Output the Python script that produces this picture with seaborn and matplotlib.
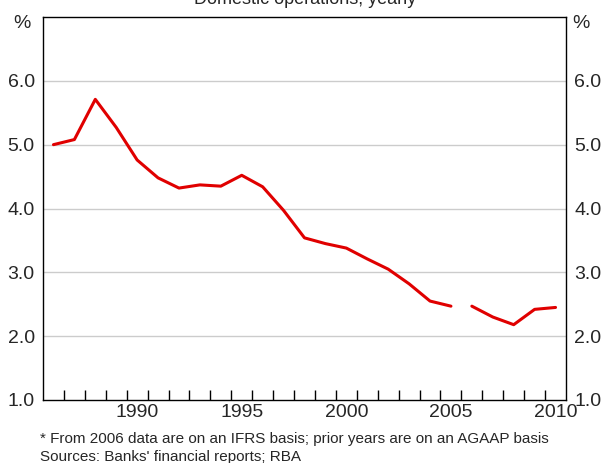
"""
Banks' net interest margin - domestic operations, yearly
"""

import numpy as np
import pandas as pd
import matplotlib
matplotlib.use("Agg")
import matplotlib.pyplot as plt
import seaborn as sns

# Data
years_agaap = [1986, 1987, 1988, 1989, 1990, 1991, 1992, 1993, 1994, 1995,
               1996, 1997, 1998, 1999, 2000, 2001, 2002, 2003, 2004, 2005]
margin_agaap = [5.00, 5.08, 5.71, 5.27, 4.76, 4.48, 4.32, 4.37, 4.35, 4.52,
                4.34, 3.97, 3.54, 3.45, 3.38, 3.21, 3.05, 2.82, 2.55, 2.47]
years_ifrs = [2006, 2007, 2008, 2009, 2010]
margin_ifrs = [2.47, 2.30, 2.18, 2.42, 2.45]

y_ticks = [1.0, 2.0, 3.0, 4.0, 5.0, 6.0]
x_labels = [1990, 1995, 2000, 2005, 2010]

title = "Domestic operations, yearly"
footnote = "* From 2006 data are on an IFRS basis; prior years are on an AGAAP basis"
sources = "Sources: Banks' financial reports; RBA"

# Build a long table; data plotted at mid-year
df = pd.concat([
    pd.DataFrame({"year": years_agaap, "margin": margin_agaap, "basis": "AGAAP"}),
    pd.DataFrame({"year": years_ifrs, "margin": margin_ifrs, "basis": "IFRS"}),
])
df["pos"] = df["year"] + 0.5

sns.set_style("white")
plt.rcParams["font.family"] = ["Liberation Sans", "DejaVu Sans"]

fig = plt.figure(figsize=(6.01, 4.63), dpi=100)
ax = fig.add_axes([43 / 601, 1 - 400 / 463, 523 / 601, 383 / 463])

sns.lineplot(data=df, x="pos", y="margin", hue="basis",
             palette=["#e00000", "#e00000"], linewidth=2.2,
             legend=False, ax=ax)

ax.set_xlim(1986, 2011)
ax.set_ylim(1.0, 7.0)
ax.set_xlabel("")
ax.set_ylabel("")

# horizontal gridlines
for y in y_ticks[1:]:
    ax.axhline(y, color="#cccccc", linewidth=1.0, zorder=0)

ax.set_yticks(y_ticks)
ax.set_yticklabels([f"{v:.1f}" for v in y_ticks])
ax.tick_params(axis="y", length=0, labelsize=14, pad=6,
               labelleft=True, labelright=True)

# year-boundary ticks inside, labels centred mid-year
ax.set_xticks(np.arange(1987, 2011), minor=False)
ax.set_xticklabels([])
ax.tick_params(axis="x", which="major", direction="in", length=7,
               width=1, color="black", top=False, bottom=True)
ax.set_xticks([y + 0.5 for y in x_labels], minor=True)
ax.set_xticklabels([str(y) for y in x_labels], minor=True)
ax.tick_params(axis="x", which="minor", length=0, labelsize=14, pad=3)

for side in ["left", "right", "top", "bottom"]:
    ax.spines[side].set_visible(True)
    ax.spines[side].set_color("black")
    ax.spines[side].set_linewidth(1.0)

fig.text(22 / 601, 1 - 24 / 463, "%", fontsize=14, ha="center", va="center")
fig.text(581 / 601, 1 - 24 / 463, "%", fontsize=14, ha="center", va="center")
fig.text(305 / 601, 1 - 4 / 463, title, fontsize=13, ha="center", va="baseline")
fig.text(40 / 601, 1 - 439 / 463, footnote, fontsize=11, ha="left", va="center")
fig.text(40 / 601, 1 - 457 / 463, sources, fontsize=11, ha="left", va="center")

fig.savefig("out.png", dpi=100)
plt.close(fig)
